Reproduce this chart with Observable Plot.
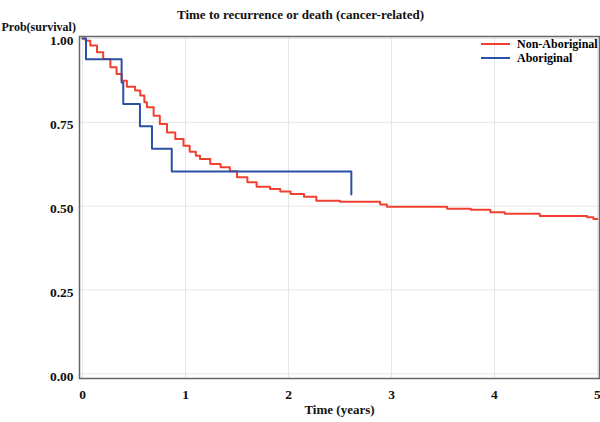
<!DOCTYPE html>
<html>
<head>
<meta charset="utf-8">
<script src="https://cdn.jsdelivr.net/npm/d3@7"></script>
<script src="https://cdn.jsdelivr.net/npm/@observablehq/plot@0.6"></script>
<style>
  body { margin: 0; background: #fff; }
  #wrap { position: relative; width: 600px; height: 422px; font-family: "Liberation Serif", "Times New Roman", serif; font-weight: bold; }
  #legend { position: absolute; left: 481px; top: 37px; font-size: 12px; line-height: 14px; white-space: nowrap; }
  #legend div { display: flex; align-items: center; height: 14px; white-space: nowrap; }
  #legend svg { margin-right: 7px; }
</style>
</head>
<body>
<div id="wrap"></div>
<script>
const title = "Time to recurrence or death (cancer-related)";
const yTitle = "Prob(survival)";
const xTitle = "Time (years)";
const seriesNames = ["Non-Aboriginal", "Aboriginal"];
const seriesColors = ["#f0402f", "#2c50a5"];
const xTicks = [0, 1, 2, 3, 4, 5];
const yTicks = [0, 0.25, 0.5, 0.75, 1];

// Non-Aboriginal Kaplan-Meier curve (time in years, survival probability)
const nonAborigTime = [0, 0.03, 0.075, 0.14, 0.2, 0.27, 0.33, 0.38, 0.43, 0.51, 0.56, 0.6, 0.625, 0.69, 0.75, 0.82, 0.9, 0.98, 1.04, 1.1, 1.14, 1.24, 1.34, 1.43, 1.5, 1.6, 1.69, 1.82, 1.92, 2.02, 2.15, 2.27, 2.5, 2.89, 2.955, 3.54, 3.77, 3.96, 4.1, 4.44, 4.9, 4.96, 5.0];
const nonAborigSurv = [1.0, 0.993, 0.979, 0.959, 0.939, 0.914, 0.894, 0.874, 0.856, 0.845, 0.83, 0.81, 0.795, 0.77, 0.745, 0.72, 0.7, 0.68, 0.662, 0.65, 0.641, 0.626, 0.616, 0.604, 0.586, 0.571, 0.558, 0.551, 0.544, 0.536, 0.528, 0.516, 0.513, 0.505, 0.498, 0.492, 0.489, 0.482, 0.477, 0.471, 0.467, 0.462, 0.462];

// Aboriginal Kaplan-Meier curve
const aborigTime = [0, 0.033, 0.379, 0.395, 0.557, 0.674, 0.866, 2.61];
const aborigSurv = [1.0, 0.938, 0.869, 0.805, 0.738, 0.671, 0.603, 0.535];

const data = [
  ...nonAborigTime.map((t, i) => ({t, p: nonAborigSurv[i], group: seriesNames[0]})),
  ...aborigTime.map((t, i) => ({t, p: aborigSurv[i], group: seriesNames[1]}))
];

const font = "Liberation Serif, Times New Roman, serif";

const chart = Plot.plot({
  width: 600,
  height: 422,
  marginLeft: 79,
  marginRight: 1,
  marginTop: 36,
  marginBottom: 44,
  style: { fontFamily: font, fontWeight: "bold", fontSize: "13px", color: "#111", background: "#fff" },
  x: { domain: [-0.03, 5.02] },
  y: { domain: [-0.014, 1.006] },
  color: { domain: seriesNames, range: seriesColors },
  marks: [
    Plot.gridX(xTicks, { stroke: "#e6e6e6", strokeOpacity: 1 }),
    Plot.gridY(yTicks, { stroke: "#e6e6e6", strokeOpacity: 1 }),
    Plot.axisX(xTicks, { tickSize: 0, tickPadding: 11, tickFormat: d3.format("d"), fontSize: 13.5, label: null }),
    Plot.axisY(yTicks, { tickSize: 0, tickPadding: 6, dy: 2.5, tickFormat: d3.format(".2f"), fontSize: 13.5, label: null }),
    Plot.line(data, { x: "t", y: "p", z: "group", stroke: "group", strokeWidth: 2, curve: "step-after" }),
    Plot.frame({ stroke: "#666", strokeWidth: 1.5 }),
    Plot.text([title], { frameAnchor: "top", dx: -39, dy: -27, fontSize: 13, fontWeight: "bold" }),
    Plot.text([yTitle], { frameAnchor: "top-left", textAnchor: "start", dx: -78, dy: -14, fontSize: 12, fontWeight: "bold" }),
    Plot.text([xTitle], { frameAnchor: "bottom", dy: 35, fontSize: 13, fontWeight: "bold" })
  ]
});

const wrap = document.getElementById("wrap");
wrap.appendChild(chart);

const legend = document.createElement("div");
legend.id = "legend";
seriesNames.forEach((name, i) => {
  const row = document.createElement("div");
  row.innerHTML = `<svg width="29" height="4"><line x1="0" x2="29" y1="2" y2="2" stroke="${seriesColors[i]}" stroke-width="2"/></svg><span>${name}</span>`;
  legend.appendChild(row);
});
wrap.appendChild(legend);
</script>
</body>
</html>
